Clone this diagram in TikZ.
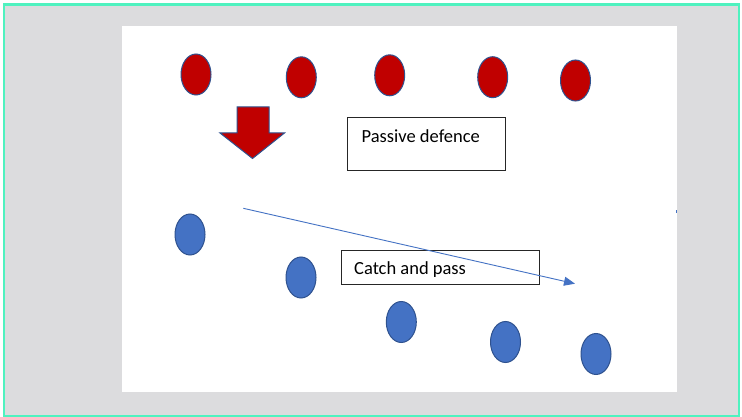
\documentclass[tikz,border=0pt]{standalone}
\usepackage{fontspec}
\setmainfont{Carlito}
\usetikzlibrary{shapes.geometric,arrows.meta}
\definecolor{frameg}{HTML}{4FF2BF}
\definecolor{bggray}{HTML}{DCDCDE}
\definecolor{redfill}{HTML}{C00000}
\definecolor{bluefill}{HTML}{4472C4}
\definecolor{blueline}{HTML}{2F528F}
\tikzset{
  redplayer/.style={ellipse, draw=blueline, line width=1pt, fill=redfill, minimum width=30pt, minimum height=41pt, inner sep=0pt},
  blueplayer/.style={ellipse, draw=blueline, line width=1pt, fill=bluefill, minimum width=30pt, minimum height=41pt, inner sep=0pt},
  labelbox/.style={draw=black!85, line width=0.9pt},
  labeltext/.style={anchor=base west, inner sep=0pt, font=\fontsize{18.5}{21}\selectfont},
  passline/.style={draw=bluefill, line width=0.9pt, -{Triangle[length=11pt,width=9pt]}}
}
\begin{document}
\begin{tikzpicture}[x=1pt,y=-1pt]
\useasboundingbox (0,0) rectangle (742,417);
% outer frame and slide
\fill[white] (0,0) rectangle (742,417);
\draw[frameg, fill=bggray, line width=2.5pt] (4.2,4.5) rectangle (739,416);
\fill[white] (122,26) rectangle (677,392);
% red players
\node[redplayer] (r1) at (196,74.5) {};
\node[redplayer] (r2) at (301.3,77.3) {};
\node[redplayer] (r3) at (389.7,75.3) {};
\node[redplayer] (r4) at (492.7,77.2) {};
\node[redplayer] (r5) at (575.5,80.5) {};
% blue players
\node[blueplayer] (b1) at (190,234.5) {};
\node[blueplayer] (b2) at (301,277.5) {};
\node[blueplayer] (b3) at (401.3,322) {};
\node[blueplayer] (b4) at (505.5,342) {};
\node[blueplayer] (b5) at (596,354) {};
% big red down arrow
\draw[draw=blueline, line width=1pt, fill=redfill, line join=miter]
  (237,107) -- (269,107) -- (269,133) -- (284.5,133) -- (252.5,158.5)
  -- (220,133) -- (237,133) -- cycle;
% text boxes
\draw[labelbox] (347.7,117.7) rectangle (505.7,170);
\node[labeltext] (pd) at (361.5,142.5) {Passive defence};
\draw[labelbox] (341,250.7) rectangle (539.7,284);
\node[labeltext] (cp) at (354,274.5) {Catch and pass};
% pass line
\coordinate (ps) at (243.3,208.3);
\coordinate (pe) at (575,283.7);
\draw[passline] (ps) -- (pe);
% stray mark at slide edge
\coordinate (m1) at (676.3,210);
\coordinate (m2) at (676.3,212.5);
\draw[bluefill, line width=1pt] (m1) -- (m2);
\end{tikzpicture}
\end{document}
